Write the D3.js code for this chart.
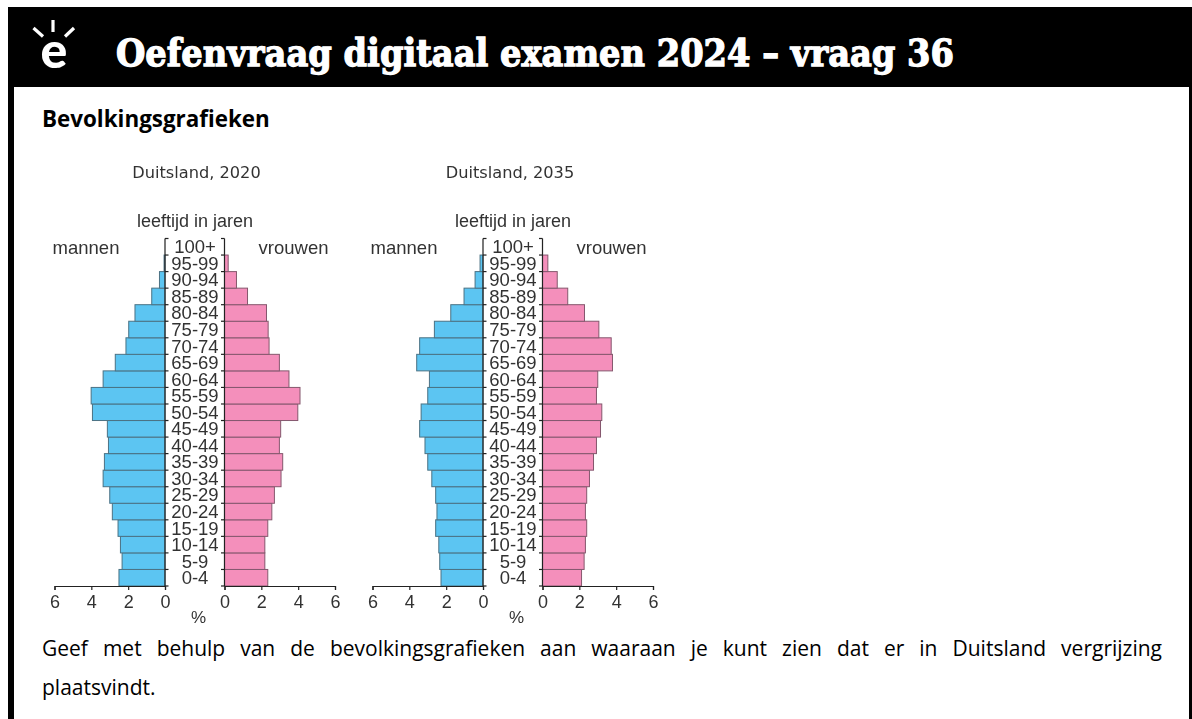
<!DOCTYPE html>
<html>
<head>
<meta charset="utf-8">
<script src="https://cdn.jsdelivr.net/npm/d3@7"></script>
<style>
html, body { margin: 0; padding: 0; background: #fff; }
svg { display: block; }
.age, .lab, .axis text { font-family: "Liberation Sans", Arial, sans-serif; fill: #333; }
.body { font-family: "Open Sans", sans-serif; fill: #000; }
</style>
</head>
<body>
<svg id="chart" width="1192" height="719"></svg>
<script>
const ages = ['0-4', '5-9', '10-14', '15-19', '20-24', '25-29', '30-34', '35-39', '40-44', '45-49', '50-54',
  '55-59', '60-64', '65-69', '70-74', '75-79', '80-84', '85-89', '90-94', '95-99', '100+'];
const men2020 = [2.5, 2.33, 2.42, 2.55, 2.86, 3.0, 3.36, 3.29, 3.07, 3.13, 3.94, 4.01, 3.36, 2.7, 2.12, 1.97, 1.63, 0.72, 0.3, 0.05, 0];
const women2020 = [2.35, 2.19, 2.19, 2.35, 2.57, 2.71, 3.07, 3.16, 2.98, 3.05, 3.98, 4.1, 3.5, 2.98, 2.42, 2.37, 2.28, 1.25, 0.65, 0.2, 0];
const men2035 = [2.28, 2.35, 2.4, 2.57, 2.5, 2.57, 2.78, 3.0, 3.15, 3.44, 3.36, 3.0, 2.91, 3.6, 3.44, 2.64, 1.75, 1.03, 0.43, 0.16, 0];
const women2035 = [2.12, 2.26, 2.33, 2.4, 2.33, 2.4, 2.55, 2.77, 2.93, 3.15, 3.22, 2.93, 3.0, 3.8, 3.73, 3.06, 2.28, 1.37, 0.8, 0.29, 0];
const pctTicks = [0, 2, 4, 6];

const svg = d3.select('#chart');

// the charts in the source are a slightly soft bitmap
svg.append('defs').append('filter').attr('id', 'soft')
  .append('feGaussianBlur').attr('stdDeviation', 0.4);

// frame + header
svg.append('rect').attr('x', 8).attr('y', 7).attr('width', 1184).attr('height', 712).attr('fill', '#000');
svg.append('rect').attr('x', 14).attr('y', 87).attr('width', 1175).attr('height', 632).attr('fill', '#fff');

// logo
const logo = svg.append('g').attr('stroke', '#fff').attr('stroke-width', 3.2);
logo.append('line').attr('x1', 53).attr('y1', 20).attr('x2', 53).attr('y2', 32);
logo.append('line').attr('x1', 33.5).attr('y1', 28).attr('x2', 43).attr('y2', 36.5);
logo.append('line').attr('x1', 74).attr('y1', 28).attr('x2', 65).attr('y2', 36.5);
svg.append('text').attr('x', 54).attr('y', 68).attr('text-anchor', 'middle')
  .attr('font-family', 'Lato, sans-serif').attr('font-weight', 900).attr('font-size', 50)
  .attr('fill', '#fff').text('e');

svg.append('text').attr('id', 'title').attr('x', 116).attr('y', 66)
  .attr('font-family', '"DejaVu Serif", serif').attr('font-weight', 'bold').attr('font-size', 38)
  .attr('textLength', 838).attr('lengthAdjust', 'spacingAndGlyphs')
  .attr('fill', '#fff').attr('stroke', '#fff').attr('stroke-width', 1.3)
  .text('Oefenvraag digitaal examen 2024 – vraag 36');

svg.append('text').attr('class', 'body').attr('x', 42).attr('y', 127)
  .attr('font-weight', 'bold').attr('font-size', 22.4).text('Bevolkingsgrafieken');

function pyramid(x0, yearLabel, yearX, men, women) {
  const g = svg.append('g').attr('transform', `translate(${x0},0)`).attr('filter', 'url(#soft)');
  const xM = d3.scaleLinear().domain([0, 6]).range([165, 54.5]);
  const xW = d3.scaleLinear().domain([0, 6]).range([224.5, 335]);
  const y = d3.scaleBand().domain(ages).range([586, 238.5]);

  g.append('text').attr('x', yearX).attr('y', 178).attr('text-anchor', 'middle')
    .attr('font-family', '"DejaVu Sans", sans-serif').attr('font-size', 16.2).attr('fill', '#333').text(yearLabel);
  g.append('text').attr('class', 'lab').attr('x', 195).attr('y', 226.5).attr('text-anchor', 'middle')
    .attr('font-size', 18).text('leeftijd in jaren');
  g.append('text').attr('class', 'lab').attr('x', 86).attr('y', 253.5).attr('text-anchor', 'middle')
    .attr('font-size', 18.5).text('mannen');
  g.append('text').attr('class', 'lab').attr('x', 293.5).attr('y', 253.5).attr('text-anchor', 'middle')
    .attr('font-size', 18.5).text('vrouwen');

  g.selectAll('rect.men').data(ages).join('rect').attr('class', 'men')
    .attr('x', (d, i) => xM(men[i])).attr('y', d => y(d))
    .attr('width', (d, i) => xM(0) - xM(men[i])).attr('height', y.bandwidth())
    .attr('display', (d, i) => men[i] > 0 ? null : 'none')
    .attr('fill', '#5BC5F2').attr('stroke', '#4b7284').attr('stroke-width', 1);
  g.selectAll('rect.women').data(ages).join('rect').attr('class', 'women')
    .attr('x', xW(0)).attr('y', d => y(d))
    .attr('width', (d, i) => xW(women[i]) - xW(0)).attr('height', y.bandwidth())
    .attr('display', (d, i) => women[i] > 0 ? null : 'none')
    .attr('fill', '#F48FBB').attr('stroke', '#85586e').attr('stroke-width', 1);

  g.selectAll('text.age').data(ages).join('text').attr('class', 'age')
    .attr('x', 195).attr('y', d => y(d) + y.bandwidth() / 2 + 6.5)
    .attr('text-anchor', 'middle').attr('font-size', 18.5).text(d => d);

  // vertical axes with the age-band ticks pointing inwards
  const bounds = [586].concat(ages.map(d => y(d)));
  [[xM(0), 3.5], [xW(0), -3.5]].forEach(([ax, dx]) => {
    g.append('line').attr('x1', ax).attr('x2', ax).attr('y1', 238.5).attr('y2', 586)
      .attr('stroke', '#222').attr('stroke-width', 1.2);
    g.selectAll(null).data(bounds).join('line')
      .attr('x1', ax).attr('x2', ax + dx).attr('y1', d => d).attr('y2', d => d)
      .attr('stroke', '#222').attr('stroke-width', 1.2);
  });

  [xM, xW].forEach(sc => {
    const a = g.append('g').attr('class', 'axis').attr('transform', 'translate(0,586)')
      .call(d3.axisBottom(sc).tickValues(pctTicks).tickFormat(d3.format('d')).tickSize(4).tickPadding(5));
    a.selectAll('path,line').attr('stroke', '#222').attr('stroke-width', 1.2);
    a.selectAll('text').attr('font-size', 18);
  });

  g.append('text').attr('class', 'lab').attr('x', 198.5).attr('y', 623).attr('text-anchor', 'middle')
    .attr('font-size', 17).attr('fill', '#555').text('%');
}

pyramid(0, 'Duitsland, 2020', 196.5, men2020, women2020);
pyramid(318, 'Duitsland, 2035', 192, men2035, women2035);

// justified first line: spread the words over the measured width
const q = svg.append('text').attr('class', 'body').attr('x', 42).attr('y', 656).attr('font-size', 21)
  .text('Geef met behulp van de bevolkingsgrafieken aan waaraan je kunt zien dat er in Duitsland vergrijzing');
const gaps = q.text().split(' ').length - 1;
q.attr('word-spacing', (1162 - 42 - q.node().getComputedTextLength()) / gaps);
svg.append('text').attr('class', 'body').attr('x', 42).attr('y', 695).attr('font-size', 21).text('plaatsvindt.');
</script>
</body>
</html>
